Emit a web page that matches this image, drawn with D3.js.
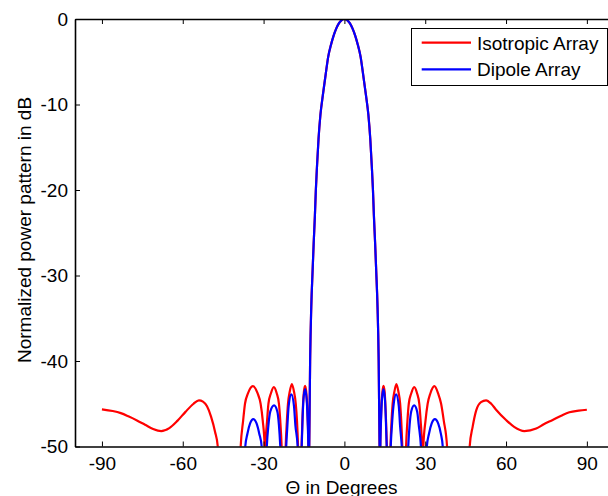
<!DOCTYPE html>
<html><head><meta charset="utf-8">
<script src="https://cdn.jsdelivr.net/npm/d3@7"></script>
<style>
html,body{margin:0;padding:0;background:#fff;}
svg{display:block;}
text{font-family:"Liberation Sans",Arial,sans-serif;}
</style></head>
<body><svg id="c" width="608" height="496"></svg>
<script>
// ---- data ----
const xTicks = [-90, -60, -30, 0, 30, 60, 90];
const yTicks = [0, -10, -20, -30, -40, -50];
const seriesNames = ["Isotropic Array", "Dipole Array"];
const seriesColors = ["#ff0000", "#0000ff"];

const mainTheta = [-13.05,-12.7,-12.3,-11.8,-11.4,-10.95,-10.6,-10.15,-9.6,-8.9,-8,-7,-6,-5,-4,-3,-2,-1,0,1,2,3,4,5,6,7,8,8.9,9.6,10.15,10.6,10.95,11.4,11.8,12.3,12.7,13.05];
const mainDb    = [-50,-39.5,-33.7,-29.4,-26.2,-23,-20,-17.1,-14,-11.2,-8.9,-6.6,-4.4,-3.05,-1.95,-1.1,-0.48,-0.12,0,-0.12,-0.48,-1.1,-1.95,-3.05,-4.4,-6.6,-8.9,-11.2,-14,-17.1,-20,-23,-26.2,-29.4,-33.7,-39.5,-50];

const isoLeftTheta = [-90,-86,-83,-80,-77,-74,-71,-68,-65,-62,-59,-56,-54,-52.5,-51,-49.5,-48,-47,-46.5,-42.7,
  -38.9,-38.5,-37.6,-36.9,-35.8,-34.0,-32.2,-31.1,-30.3,-29.6,-29.45,
  -29.3,-28.7,-28.2,-27.3,-26.2,-25.1,-24.3,-23.8,-23.3,-22.55,
  -21.8,-21.35,-20.95,-20.3,-19.5,-18.7,-18.05,-17.6,-17.2,-16.55,
  -15.9,-15.6,-15.35,-15.0,-14.6,-14.2,-13.85,-13.6,-13.35,-13.2];
const isoLeftDb = [-45.65,-45.85,-46.1,-46.5,-46.95,-47.45,-47.95,-48.2,-47.85,-47.0,-45.95,-45.0,-44.6,-44.75,-45.3,-46.5,-48.3,-50,-53,-70,
  -53,-50,-47,-45,-43.8,-42.95,-43.8,-45,-47,-50,-58,
  -50,-47,-45,-43.8,-43.05,-43.8,-45,-47,-50,-60,
  -50,-47,-45,-43.6,-42.7,-43.6,-45,-47,-50,-60,
  -50,-47,-45,-43.5,-42.9,-43.5,-45,-47,-50,-58];
const isoRightTheta = [13.2,13.3,13.55,13.8,14.15,14.5,14.9,15.2,15.45,15.75,16.45,
  17.1,17.5,17.9,18.55,19.3,20.05,20.7,21.1,21.5,22.2,
  22.9,23.4,23.9,24.8,25.9,27.0,27.8,28.3,28.8,29.05,
  29.3,30.1,30.9,31.9,33.4,34.8,35.9,36.9,38.1,38.5,42.6,46.1,
  46.5,47.6,48.9,50.7,52.6,54.5,56.3,60,63,66.8,71.2,74,77.3,80.5,83.5,87,90];
const isoRightDb = [-58,-50,-47,-45,-43.5,-42.9,-43.5,-45,-47,-50,-60,
  -50,-47,-45,-43.6,-42.7,-43.6,-45,-47,-50,-60,
  -50,-47,-45,-43.8,-43.05,-43.8,-45,-47,-50,-58,
  -50,-47,-45,-43.8,-42.95,-43.8,-45,-47,-50,-53,-70,-53,
  -50,-47.7,-45.8,-44.8,-44.6,-45.0,-45.7,-46.9,-47.7,-48.2,-47.9,-47.4,-46.9,-46.4,-46.0,-45.8,-45.7];

const dipLeftTheta = [-40,-37.2,-36.8,-36.0,-35.0,-33.8,-32.6,-31.6,-30.7,-29.8,
  -28.8,-28.2,-27.5,-26.1,-24.9,-24.3,-23.8,-22.7,
  -21.6,-21.15,-20.7,-19.7,-18.7,-18.2,-17.35,-16.6,
  -15.85,-15.5,-15.2,-14.6,-14.0,-13.7,-13.4,-13.2];
const dipLeftDb = [-62,-53,-50,-48.5,-47.3,-46.8,-47.3,-48.5,-50,-60,
  -50,-47.5,-45.9,-45.2,-45.9,-47.5,-50,-60,
  -50,-47.5,-45.3,-43.9,-45.3,-47.5,-50,-60,
  -50,-46.5,-44.5,-43.3,-44.5,-46.5,-50,-58];
const dipRightTheta = [13.2,13.35,13.65,13.95,14.5,15.05,15.35,15.7,16.45,
  17.2,17.65,18.2,19.2,20.2,20.65,21.3,22.5,
  23.7,24.2,24.8,25.9,27.0,27.6,28.4,29.5,
  30.6,31.4,32.4,33.6,34.8,35.8,36.5,36.9,40];
const dipRightDb = [-58,-50,-46.5,-44.5,-43.3,-44.5,-46.5,-50,-60,
  -50,-47.5,-45.3,-43.9,-45.3,-47.5,-50,-60,
  -50,-47.5,-45.9,-45.2,-45.9,-47.5,-50,-60,
  -50,-48.5,-47.3,-46.8,-47.3,-48.5,-50,-53,-62];

// ---- build ----
const isoTheta = isoLeftTheta.concat(mainTheta, isoRightTheta);
const isoDb = isoLeftDb.concat(mainDb, isoRightDb);
const dipTheta = dipLeftTheta.concat(mainTheta, dipRightTheta);
const dipDb = dipLeftDb.concat(mainDb, dipRightDb);
const series = [
  isoTheta.map((t,i)=>[t, isoDb[i]]),
  dipTheta.map((t,i)=>[t, dipDb[i]])
];

const L = 75, R = 613.8, T = 19, B = 446.5;
const svg = d3.select("#c");
svg.append("rect").attr("width",608).attr("height",496).attr("fill","#fff");

const x = d3.scaleLinear().domain([-100,100]).range([L,R]);
const y = d3.scaleLinear().domain([-50,0]).range([B,T]);

svg.append("clipPath").attr("id","clip").append("rect")
  .attr("x",L).attr("y",T).attr("width",R-L).attr("height",B-T);

const line = d3.line().x(d=>x(d[0])).y(d=>y(d[1])).curve(d3.curveMonotoneX);
const g = svg.append("g").attr("clip-path","url(#clip)");
series.forEach((s,i)=>{
  g.append("path").attr("d",line(s)).attr("fill","none")
   .attr("stroke",seriesColors[i]).attr("stroke-width",2.2).attr("stroke-linejoin","round");
});

// axes
const fs = "19px";
const fmt = d => String(d);
const xa = svg.append("g").attr("transform",`translate(0,${B})`)
  .call(d3.axisBottom(x).tickValues(xTicks).tickSize(-5).tickSizeOuter(0).tickPadding(10.5).tickFormat(fmt));
const xt = svg.append("g").attr("transform",`translate(0,${T})`)
  .call(d3.axisTop(x).tickValues(xTicks).tickSize(-5).tickSizeOuter(0).tickFormat(""));
const ya = svg.append("g").attr("transform",`translate(${L},0)`)
  .call(d3.axisLeft(y).tickValues(yTicks).tickSize(-5).tickSizeOuter(0).tickPadding(7).tickFormat(fmt));
[xa,xt,ya].forEach(a=>{
  a.select(".domain").attr("stroke","#000").attr("stroke-width",1.6);
  a.selectAll(".tick line").attr("stroke","#000").attr("stroke-width",1);
  a.selectAll("text").attr("font-size",fs).attr("fill","#000")
   .attr("font-family","'Liberation Sans',Arial,sans-serif");
});

// axis titles
svg.append("text").attr("x",341.5).attr("y",494).attr("text-anchor","middle")
  .attr("font-size",fs).attr("fill","#000").text("Θ in Degrees");
svg.append("text").attr("transform","translate(31,230) rotate(-90)").attr("text-anchor","middle")
  .attr("font-size",fs).attr("fill","#000").text("Normalized power pattern in dB");

// legend
const lg = svg.append("g");
lg.append("rect").attr("x",411.5).attr("y",28.5).attr("width",196).attr("height",57)
  .attr("fill","#fff").attr("stroke","#000").attr("stroke-width",1);
seriesNames.forEach((n,i)=>{
  const yy = 42.7 + i*26.6;
  lg.append("line").attr("x1",421.7).attr("x2",471).attr("y1",yy).attr("y2",yy)
    .attr("stroke",seriesColors[i]).attr("stroke-width",2.2);
  lg.append("text").attr("x",477).attr("y",yy+6.8).attr("font-size",fs).attr("fill","#000").text(n);
});
</script></body></html>
